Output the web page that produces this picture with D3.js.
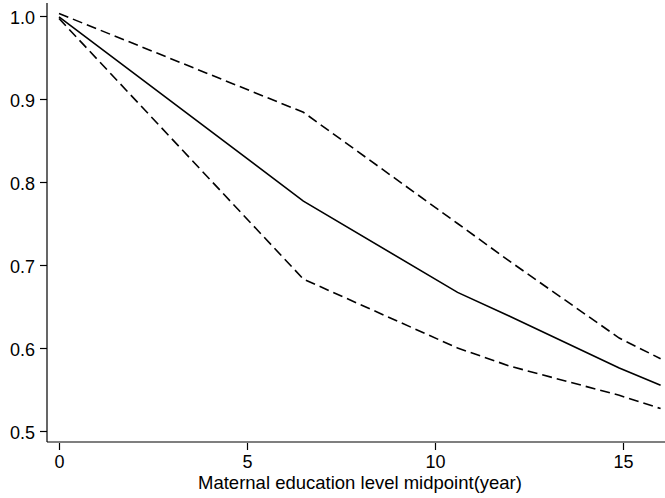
<!DOCTYPE html>
<html>
<head>
<meta charset="utf-8">
<script src="https://cdn.jsdelivr.net/npm/d3@7/dist/d3.min.js"></script>
<style>
  html, body { margin: 0; padding: 0; background: #fff; }
  svg { display: block; font-family: "Liberation Sans", Arial, sans-serif; }
</style>
</head>
<body>
<svg id="chart" width="665" height="498"></svg>
<script>
// Maternal education midpoints (years) and predicted values with bounds
const eduYears = [0, 6.5, 10.6, 12, 14.9, 16];
const estimate = [0.999, 0.777, 0.667, 0.638, 0.576, 0.555];
const upperBound = [1.003, 0.884, 0.750, 0.704, 0.612, 0.587];
const lowerBound = [0.997, 0.683, 0.600, 0.578, 0.543, 0.527];

const xTicks = [0, 5, 10, 15];
const yTicks = [0.5, 0.6, 0.7, 0.8, 0.9, 1.0];
const xTitle = "Maternal education level midpoint(year)";

const svg = d3.select("#chart");
const plotLeft = 47, plotRight = 665, plotTop = 3, plotBottom = 442;

// x: 0 -> 59px, 15 -> 623px
const x = d3.scaleLinear().domain([0, 15]).range([59, 623]);
// y: 1.0 -> 16px, 0.5 -> 431px
const y = d3.scaleLinear().domain([0.5, 1.0]).range([431, 16]);

const tickFont = 18;
const titleFont = 18.5;

// y axis
const yAxis = svg.append("g").attr("transform", `translate(${plotLeft},0)`)
  .call(d3.axisLeft(y).tickValues(yTicks).tickFormat(d3.format(".1f")).tickSize(7).tickSizeOuter(0));
yAxis.select(".domain").remove();
yAxis.selectAll("line").attr("stroke", "#000").attr("stroke-width", 1.2);
yAxis.selectAll("text").attr("font-size", tickFont).attr("fill", "#000")
  .attr("x", -12).attr("dy", "0.42em").attr("font-family", "Liberation Sans, Arial, sans-serif");
svg.append("line").attr("x1", plotLeft).attr("x2", plotLeft).attr("y1", plotTop).attr("y2", plotBottom)
  .attr("stroke", "#000").attr("stroke-width", 1.2);

// x axis
const xAxis = svg.append("g").attr("transform", `translate(0,${plotBottom + 1})`)
  .call(d3.axisBottom(x).tickValues(xTicks).tickFormat(d3.format("d")).tickSize(7).tickSizeOuter(0));
xAxis.select(".domain").remove();
xAxis.selectAll("line").attr("stroke", "#000").attr("stroke-width", 1.2);
xAxis.selectAll("text").attr("font-size", tickFont).attr("fill", "#000")
  .attr("y", 12).attr("dy", "0.71em").attr("font-family", "Liberation Sans, Arial, sans-serif");
svg.append("line").attr("x1", plotLeft).attr("x2", plotRight).attr("y1", plotBottom).attr("y2", plotBottom)
  .attr("stroke", "#000").attr("stroke-width", 1.2);

svg.append("text").attr("x", 360).attr("y", 489).attr("text-anchor", "middle")
  .attr("font-size", titleFont).attr("fill", "#000").text(xTitle);

// curves
const line = d3.line().x((d, i) => x(eduYears[i])).y(d => y(d));
svg.append("path").datum(upperBound).attr("d", line)
  .attr("fill", "none").attr("stroke", "#000").attr("stroke-width", 1.6).attr("stroke-dasharray", "10,5");
svg.append("path").datum(lowerBound).attr("d", line)
  .attr("fill", "none").attr("stroke", "#000").attr("stroke-width", 1.6).attr("stroke-dasharray", "10,5");
svg.append("path").datum(estimate).attr("d", line)
  .attr("fill", "none").attr("stroke", "#000").attr("stroke-width", 1.6);
</script>
</body>
</html>
